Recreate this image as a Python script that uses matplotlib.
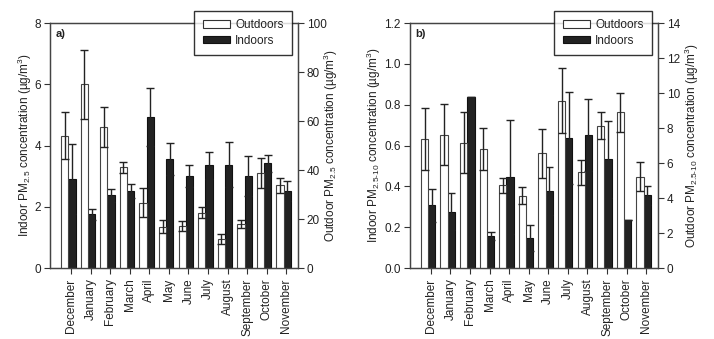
import matplotlib
matplotlib.use('Agg')
import matplotlib.pyplot as plt
import matplotlib.patches as patches
import numpy as np

plt.rcParams['font.family'] = ['Liberation Sans', 'DejaVu Sans']
plt.rcParams['mathtext.fontset'] = 'custom'
plt.rcParams['mathtext.rm'] = 'Liberation Sans'
plt.rcParams['mathtext.it'] = 'Liberation Sans:italic'

months = ['December', 'January', 'February', 'March', 'April', 'May', 'June',
          'July', 'August', 'September', 'October', 'November']

# panel a) PM2.5 : indoor on left axis, outdoor on right axis
pm25_in = [2.90, 1.75, 2.38, 2.52, 4.94, 3.56, 3.00, 3.35, 3.37, 3.01, 3.42, 2.52]
pm25_in_err = [1.15, 0.18, 0.21, 0.23, 0.95, 0.53, 0.36, 0.44, 0.73, 0.65, 0.28, 0.33]
pm25_out = [53.9, 75.0, 57.6, 41.1, 26.7, 16.9, 17.2, 22.6, 11.8, 18.0, 38.9, 33.8]
pm25_out_err = [9.6, 14.1, 8.3, 2.3, 6.0, 2.5, 2.0, 2.1, 1.9, 1.7, 6.2, 3.0]

# panel b) PM2.5-10
pm10_in = [0.307, 0.276, 0.836, 0.157, 0.446, 0.147, 0.377, 0.638, 0.650, 0.532, 0.236, 0.357]
pm10_in_err = [0.081, 0.090, 0.0, 0.020, 0.279, 0.065, 0.116, 0.225, 0.176, 0.190, 0.0, 0.046]
pm10_out = [7.35, 7.62, 7.17, 6.80, 4.73, 4.12, 6.56, 9.56, 5.47, 8.13, 8.91, 5.22]
pm10_out_err = [1.77, 1.75, 1.76, 1.21, 0.43, 0.49, 1.39, 1.86, 0.70, 0.78, 1.11, 0.82]

fig = plt.figure(figsize=(7.14, 3.39), dpi=100)

x = np.arange(len(months))
w = 0.37
fs = 8.5
tc = '#222222'


def make_panel(left, tag, ind, ind_err, out, out_err, lmax, lstep, rmax, rstep,
               lfmt, llabel, rlabel, lx, rx):
    ax = fig.add_axes([left, 0.2094, 0.347, 0.7227])
    ax2 = ax.twinx()

    ax.bar(x + 0.05, ind, w, color='#222222', edgecolor='#111111', lw=0.8, zorder=2)
    ax.errorbar(x + 0.05, ind, yerr=ind_err, fmt='none', ecolor='#222222',
                elinewidth=1.0, capsize=3.0, capthick=1.0, zorder=3)

    ax2.bar(x - 0.32, out, w, color='white', edgecolor='#444444', lw=0.8, zorder=2)
    ax2.errorbar(x - 0.32, out, yerr=out_err, fmt='none', ecolor='#222222',
                 elinewidth=1.0, capsize=3.0, capthick=1.0, zorder=3)

    ax.set_xlim(-1.07, 11.58)
    ax.set_ylim(0, lmax)
    ax2.set_ylim(0, rmax)
    lt = np.arange(0, lmax + lstep / 2, lstep)
    ax.set_yticks(lt)
    ax.set_yticklabels([lfmt.format(v) for v in lt])
    ax2.set_yticks(np.arange(0, rmax + rstep / 2, rstep))
    ax.set_xticks(x)
    ax.set_xticklabels(months, rotation=90)

    for a in (ax, ax2):
        a.tick_params(direction='out', length=4, width=0.8, colors='#333333',
                      labelcolor=tc, labelsize=fs)
        a.tick_params(axis='y', pad=2.5)
        for s in a.spines.values():
            s.set_color('#444444')
            s.set_linewidth(0.9)

    ax.set_ylabel(llabel, fontsize=fs, color=tc)
    ax2.set_ylabel(rlabel, fontsize=fs, color=tc)
    ax.yaxis.set_label_coords(lx, 0.5)
    ax2.yaxis.set_label_coords(rx, 0.5)
    ax.text(0.024, 0.975, tag, transform=ax.transAxes, fontsize=8,
            fontweight='bold', va='top', ha='left', color=tc)

    # legend box sits partly above the axes
    h_out = patches.Patch(facecolor='white', edgecolor='#333333', lw=0.8)
    h_in = patches.Patch(facecolor='#222222', edgecolor='#111111', lw=0.8)
    leg = ax2.legend([h_out, h_in], ['Outdoors', 'Indoors'],
                     loc='upper right', bbox_to_anchor=(0.976, 1.049),
                     fontsize=fs, frameon=True, fancybox=False,
                     edgecolor='black', borderpad=0.7, borderaxespad=0,
                     handlelength=2.3, handleheight=0.6, labelspacing=0.3,
                     handletextpad=0.45)
    leg.get_frame().set_linewidth(1.0)
    leg.set_zorder(10)
    for t in leg.get_texts():
        t.set_color(tc)
    return ax, ax2


make_panel(0.070, 'a)', pm25_in, pm25_in_err, pm25_out, pm25_out_err,
           8, 2, 100, 20, '{:.0f}',
           r'Indoor PM$_{\mathregular{2.5}}$ concentration (µg/m$^{\mathregular{3}}$)',
           r'Outdoor PM$_{\mathregular{2.5}}$ concentration (µg/m$^{\mathregular{3}}$)',
           -0.065, 1.097)

make_panel(0.574, 'b)', pm10_in, pm10_in_err, pm10_out, pm10_out_err,
           1.2, 0.2, 14, 2, '{:.1f}',
           r'Indoor PM$_{\mathregular{2.5\text{-}10}}$ concentration (µg/m$^{\mathregular{3}}$)',
           r'Outdoor PM$_{\mathregular{2.5\text{-}10}}$ concentration (µg/m$^{\mathregular{3}}$)',
           -0.108, 1.102)

fig.savefig('out.png', dpi=100)
